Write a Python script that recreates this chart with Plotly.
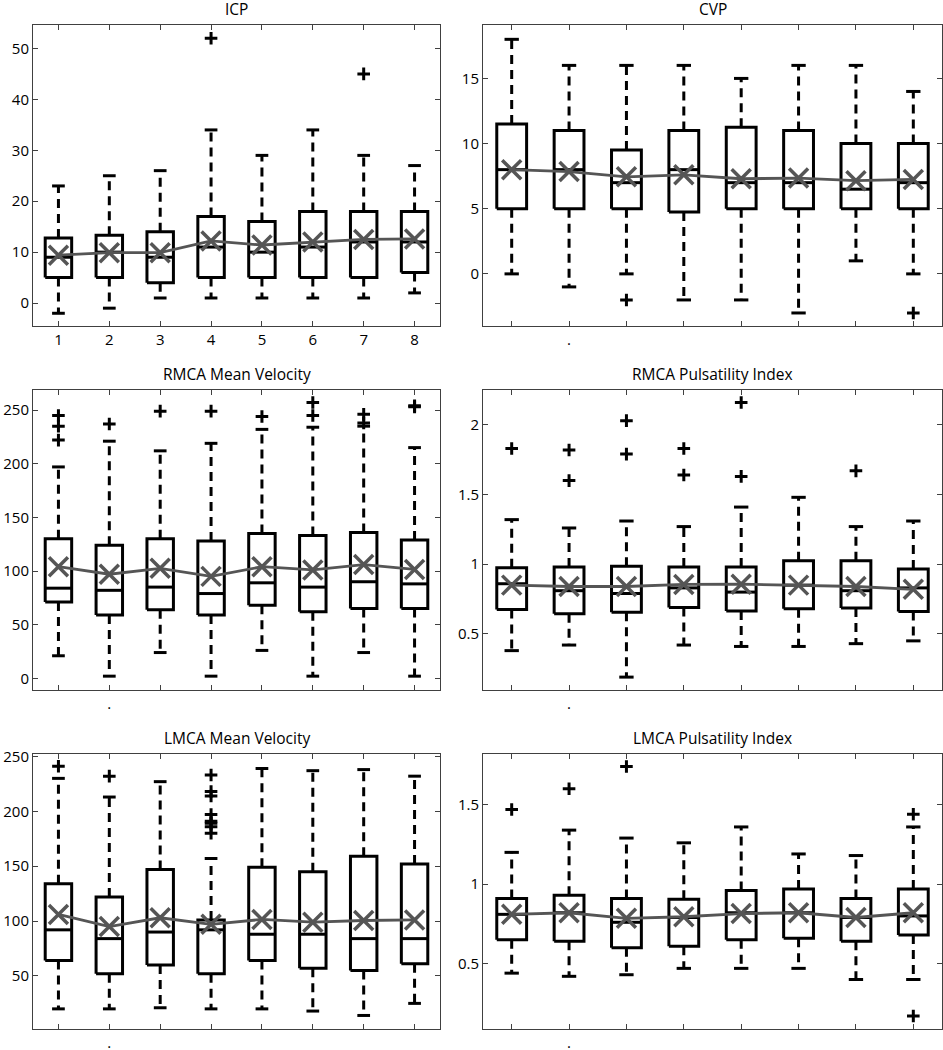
import plotly.graph_objects as go
from plotly.subplots import make_subplots

# ---------------- data ----------------
groups = [1, 2, 3, 4, 5, 6, 7, 8]
group_labels = ["1", "2", "3", "4", "5", "6", "7", "8"]

titles = ["ICP", "CVP", "RMCA Mean Velocity", "RMCA Pulsatility Index",
          "LMCA Mean Velocity", "LMCA Pulsatility Index"]

# ICP
icp_low = [-2, -1, 1, 1, 1, 1, 1, 2]
icp_q1 = [5, 5, 4, 5, 5, 5, 5, 6]
icp_med = [9, 10, 9, 11, 10, 11, 12, 12]
icp_q3 = [12.8, 13.3, 14, 17, 16, 18, 18, 18]
icp_high = [23, 25, 26, 34, 29, 34, 29, 27]
icp_mean = [9.4, 9.9, 9.9, 12.2, 11.4, 12.0, 12.5, 12.6]
icp_out = [[], [], [], [52], [], [], [45], []]

# CVP
cvp_low = [0, -1, 0, -2, -2, -3, 1, 0]
cvp_q1 = [5, 5, 5, 4.75, 5, 5, 5, 5]
cvp_med = [8, 8, 7, 8, 7, 7, 6.5, 7]
cvp_q3 = [11.5, 11, 9.5, 11, 11.25, 11, 10, 10]
cvp_high = [18, 16, 16, 16, 15, 16, 16, 14]
cvp_mean = [8.0, 7.85, 7.45, 7.6, 7.3, 7.35, 7.15, 7.25]
cvp_out = [[], [], [-2], [], [], [], [], [-3]]

# RMCA Mean Velocity
rmv_low = [21, 2, 24, 2, 26, 2, 24, 2]
rmv_q1 = [71, 59, 64, 59, 68, 62, 65, 65]
rmv_med = [84, 82, 85, 79, 89, 85, 90, 88]
rmv_q3 = [130, 124, 130, 128, 135, 133, 136, 129]
rmv_high = [197, 221, 212, 219, 232, 234, 235, 215]
rmv_mean = [104, 97, 102.5, 95, 104, 101, 106, 101.5]
rmv_out = [[222, 235, 245], [237], [249], [249], [244], [245, 257], [238, 246], [253, 254]]

# RMCA Pulsatility Index
rpi_low = [0.38, 0.42, 0.19, 0.42, 0.41, 0.41, 0.43, 0.45]
rpi_q1 = [0.675, 0.645, 0.655, 0.69, 0.665, 0.68, 0.685, 0.66]
rpi_med = [0.86, 0.81, 0.79, 0.83, 0.80, 0.85, 0.81, 0.83]
rpi_q3 = [0.975, 0.98, 0.985, 0.98, 0.98, 1.025, 1.025, 0.965]
rpi_high = [1.32, 1.26, 1.31, 1.27, 1.41, 1.48, 1.27, 1.31]
rpi_mean = [0.85, 0.84, 0.84, 0.855, 0.857, 0.85, 0.84, 0.82]
rpi_out = [[1.83], [1.60, 1.82], [1.79, 2.03], [1.64, 1.83], [1.63, 2.16], [], [1.67], []]

# LMCA Mean Velocity
lmv_low = [20, 20, 21, 20, 20, 18, 14, 25]
lmv_q1 = [64, 52, 60, 52, 64, 57, 55, 61]
lmv_med = [92, 84, 90, 92, 88, 88, 84, 84]
lmv_q3 = [134, 122, 147, 101, 149, 145, 159, 152]
lmv_high = [230, 213, 227, 157, 239, 237, 238, 232]
lmv_mean = [106, 95, 103, 97, 101.5, 99, 100.5, 101]
lmv_out = [[241], [232], [], [180, 186, 189, 191, 197, 214, 218, 233], [], [], [], []]

# LMCA Pulsatility Index
lpi_low = [0.44, 0.42, 0.43, 0.47, 0.47, 0.47, 0.40, 0.40]
lpi_q1 = [0.65, 0.64, 0.60, 0.61, 0.65, 0.66, 0.64, 0.68]
lpi_med = [0.81, 0.82, 0.76, 0.79, 0.82, 0.82, 0.79, 0.80]
lpi_q3 = [0.91, 0.93, 0.91, 0.905, 0.96, 0.97, 0.91, 0.97]
lpi_high = [1.20, 1.34, 1.29, 1.26, 1.36, 1.19, 1.18, 1.36]
lpi_mean = [0.81, 0.82, 0.785, 0.795, 0.815, 0.82, 0.79, 0.82]
lpi_out = [[1.47], [1.60], [1.74], [], [], [], [], [0.17, 1.44]]

# axis settings
y_ranges = [[-4.5, 54.6], [-4.0, 19.1], [-10.9, 268.7], [0.0975, 2.25],
            [1.66, 252.2], [0.0885, 1.819]]
y_ticks = [[0, 10, 20, 30, 40, 50], [0, 5, 10, 15], [0, 50, 100, 150, 200, 250],
           [0.5, 1, 1.5, 2], [50, 100, 150, 200, 250], [0.5, 1, 1.5]]

panels = [
    (icp_low, icp_q1, icp_med, icp_q3, icp_high, icp_mean, icp_out),
    (cvp_low, cvp_q1, cvp_med, cvp_q3, cvp_high, cvp_mean, cvp_out),
    (rmv_low, rmv_q1, rmv_med, rmv_q3, rmv_high, rmv_mean, rmv_out),
    (rpi_low, rpi_q1, rpi_med, rpi_q3, rpi_high, rpi_mean, rpi_out),
    (lmv_low, lmv_q1, lmv_med, lmv_q3, lmv_high, lmv_mean, lmv_out),
    (lpi_low, lpi_q1, lpi_med, lpi_q3, lpi_high, lpi_mean, lpi_out),
]

# ---------------- styles ----------------
W, H = 943, 1050
FONT = "Open Sans"
TICK_SIZE = 15
TITLE_SIZE = 15.5
BOX_HW = 0.26
CAP_HW = 0.125
LW = 3
MEAN_COLOR = "#555555"
AX_COLOR = "#404040"

col_px = [(33, 440), (483, 942)]
row_px = [(25, 326), (390, 690), (754, 1029)]

fig = make_subplots(rows=3, cols=2)

for k, (low, q1, med, q3, high, mean, outs) in enumerate(panels):
    r, c = k // 2 + 1, k % 2 + 1
    bx, by, mx, my, wx, wy, cx, cy = [], [], [], [], [], [], [], []
    ox, oy = [], []
    for i, g in enumerate(groups):
        bx += [g - BOX_HW, g + BOX_HW, g + BOX_HW, g - BOX_HW, g - BOX_HW, None]
        by += [q1[i], q1[i], q3[i], q3[i], q1[i], None]
        mx += [g - BOX_HW, g + BOX_HW, None]
        my += [med[i], med[i], None]
        wx += [g, g, None, g, g, None]
        wy += [q3[i], high[i], None, q1[i], low[i], None]
        cx += [g - CAP_HW, g + CAP_HW, None, g - CAP_HW, g + CAP_HW, None]
        cy += [high[i], high[i], None, low[i], low[i], None]
        for v in outs[i]:
            ox.append(g)
            oy.append(v)
    line_style = dict(color="black", width=LW)
    fig.add_trace(go.Scatter(x=wx, y=wy, mode="lines",
                             line=dict(color="black", width=LW, dash="9px,6px")), row=r, col=c)
    fig.add_trace(go.Scatter(x=cx, y=cy, mode="lines", line=line_style), row=r, col=c)
    fig.add_trace(go.Scatter(x=bx, y=by, mode="lines", line=line_style), row=r, col=c)
    fig.add_trace(go.Scatter(x=mx, y=my, mode="lines", line=line_style), row=r, col=c)
    fig.add_trace(go.Scatter(x=ox, y=oy, mode="markers",
                             marker=dict(symbol="cross-thin", size=9,
                                         line=dict(color="black", width=3))), row=r, col=c)
    fig.add_trace(go.Scatter(x=groups, y=mean, mode="lines+markers",
                             line=dict(color=MEAN_COLOR, width=2.8),
                             marker=dict(symbol="x-thin", size=19, color=MEAN_COLOR,
                                         line=dict(color=MEAN_COLOR, width=3.5))), row=r, col=c)

    ax_suffix = "" if k == 0 else str(k + 1)
    x0, x1 = col_px[c - 1]
    y0, y1 = row_px[r - 1]
    xdom = [x0 / W, x1 / W]
    ydom = [1 - y1 / H, 1 - y0 / H]
    ticktext = group_labels if k == 0 else ["", ".", "", "", "", "", "", ""]
    fig.layout["xaxis" + ax_suffix].update(
        domain=xdom, range=[0.5, 8.5], tickvals=groups, ticktext=ticktext,
        ticks="inside", ticklen=5, tickcolor=AX_COLOR, showline=True,
        linecolor=AX_COLOR, linewidth=1, mirror="ticks", showgrid=False,
        zeroline=False, automargin=False,
        tickfont=dict(family=FONT, size=TICK_SIZE, color="black"))
    fig.layout["yaxis" + ax_suffix].update(
        domain=ydom, range=y_ranges[k], tickvals=y_ticks[k],
        ticks="inside", ticklen=5, tickcolor=AX_COLOR, showline=True,
        linecolor=AX_COLOR, linewidth=1, mirror="ticks", showgrid=False,
        zeroline=False, automargin=False,
        tickfont=dict(family=FONT, size=TICK_SIZE, color="black"))
    fig.add_annotation(text=titles[k], xref="paper", yref="paper",
                       x=(xdom[0] + xdom[1]) / 2, y=ydom[1], xanchor="center",
                       yanchor="middle", yshift=16, showarrow=False,
                       font=dict(family=FONT, size=TITLE_SIZE, color="black"))

fig.update_layout(width=W, height=H, margin=dict(l=0, r=0, t=0, b=0),
                  showlegend=False, plot_bgcolor="white", paper_bgcolor="white",
                  template="none", font=dict(family=FONT, size=TICK_SIZE, color="black"))

fig.write_html("out.html", config={"displayModeBar": False},
               post_script="document.body.style.margin='0px';document.body.style.overflow='hidden';")
